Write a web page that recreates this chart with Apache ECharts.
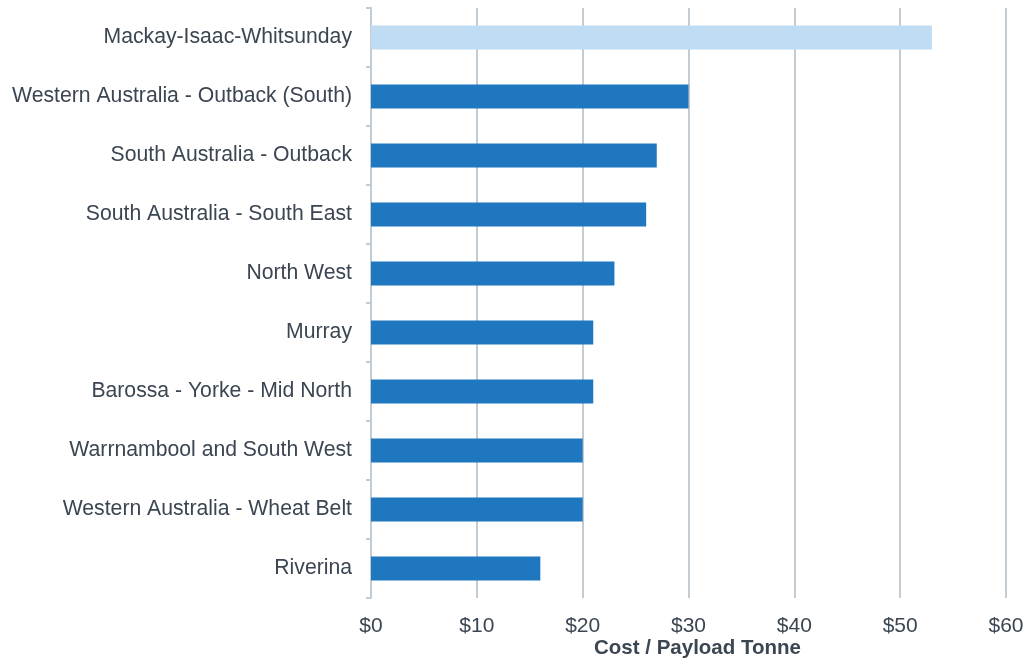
<!DOCTYPE html>
<html><head><meta charset="utf-8">
<script src="https://cdn.jsdelivr.net/npm/echarts@6/dist/echarts.min.js"></script>
<style>html,body{margin:0;padding:0;background:#fff}#c{width:1028px;height:661px}</style>
</head><body><div id="c"></div>
<script>
const categories = ["Mackay-Isaac-Whitsunday","Western Australia - Outback (South)","South Australia - Outback","South Australia - South East","North West","Murray","Barossa - Yorke - Mid North","Warrnambool and South West","Western Australia - Wheat Belt","Riverina"];
const costValues = [53, 30, 27, 26, 23, 21, 21, 20, 20, 16];
const highlightCategory = "Mackay-Isaac-Whitsunday";
const axisTitle = "Cost / Payload Tonne";

const chart = echarts.init(document.getElementById('c'), null, {renderer:'canvas'});
const textColor = '#3b4652';
chart.setOption({
  animation:false,
  grid:{left:371,right:22,top:8,bottom:63,containLabel:false,outerBoundsMode:'none'},
  xAxis:{type:'value',min:0,max:60,interval:10,
    name:axisTitle,nameLocation:'middle',nameGap:40,nameMoveOverlap:false,
    nameTextStyle:{fontFamily:'Liberation Sans',fontSize:20.5,fontWeight:'bold',color:textColor,padding:[0,0,0,18]},
    axisLine:{show:false},axisTick:{show:false},
    axisLabel:{formatter:v=>'$'+v,fontFamily:'Liberation Sans',fontSize:21,color:textColor,margin:18},
    splitLine:{show:true,lineStyle:{color:'#c3cbd3',width:2}}},
  yAxis:{type:'category',data:categories,inverse:true,
    axisLine:{show:true,lineStyle:{color:'#c3cbd3',width:2}},
    axisTick:{show:true,length:5,lineStyle:{color:'#c3cbd3',width:2}},
    axisLabel:{fontFamily:'Liberation Sans',fontSize:21.2,color:textColor,margin:19}},
  series:[{type:'bar',barCategoryGap:'59%',
    data:costValues.map((v,i)=>({value:v,itemStyle:{color:categories[i]===highlightCategory?'#bfdcf3':'#1f77bf'}}))}]
});
</script></body></html>
